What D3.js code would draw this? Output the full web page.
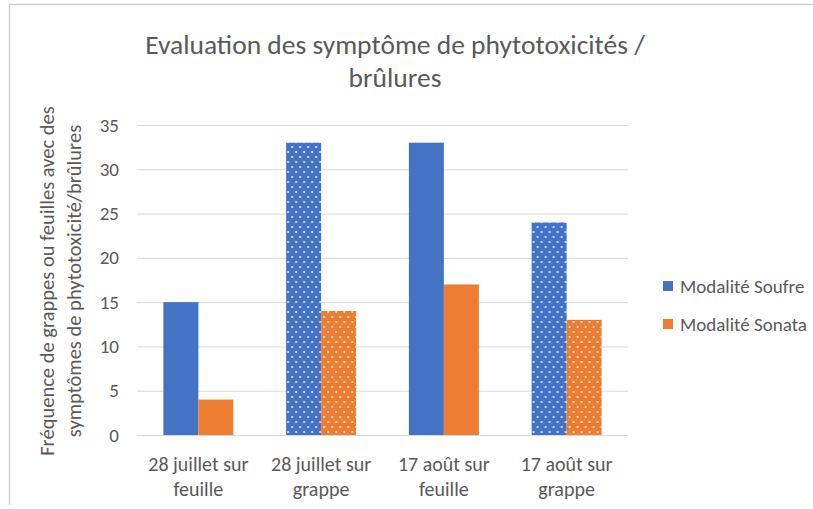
<!DOCTYPE html>
<html><head><meta charset="utf-8">
<script src="https://cdn.jsdelivr.net/npm/d3@7"></script>
<style>body{margin:0;background:#fff}</style>
</head><body>
<svg id="c" width="813" height="509"></svg>
<script>
const categories = [["28 juillet sur","feuille"],["28 juillet sur","grappe"],["17 août sur","feuille"],["17 août sur","grappe"]];
const patterned = [false,true,false,true];
const seriesNames = ["Modalité Soufre","Modalité Sonata"];
const soufre = [15,33,33,24];
const sonata = [4,14,17,13];
const yTicks = [0,5,10,15,20,25,30,35];
const colors = ["#4472C4","#ED7D31"];

(function(){
const svg = d3.select("#c");
const font = "Calibri, Carlito, 'Open Sans', sans-serif";
const txt = "#595959";

// border
svg.append("path").attr("d","M9.5,505 L9.5,4.5 L813,4.5").attr("fill","none").attr("stroke","#d0d0d0").attr("stroke-width",1.5);

const defs = svg.append("defs");
colors.forEach((c,i)=>{
  const p = defs.append("pattern").attr("id","dots"+i).attr("patternUnits","userSpaceOnUse").attr("width",8).attr("height",10);
  p.append("rect").attr("width",8).attr("height",10).attr("fill",c);
  [[2,2],[6,7]].forEach(([x,y])=>p.append("rect").attr("x",x-0.9).attr("y",y-0.9).attr("width",1.8).attr("height",1.8).attr("fill","#fff").attr("opacity",0.85));
});

const pl=137, pr=628, pt=125, pb=435;
const x0 = d3.scaleBand().domain(d3.range(categories.length)).range([pl,pr]).paddingInner(0.43).paddingOuter(0.215);
const x1 = d3.scaleBand().domain([0,1]).range([0,x0.bandwidth()]);
const y = d3.scaleLinear().domain([0,35]).range([pb,pt]);

// gridlines
svg.append("g").selectAll("line").data(yTicks).join("line")
  .attr("x1",pl).attr("x2",pr).attr("y1",d=>y(d)+0.5).attr("y2",d=>y(d)+0.5)
  .attr("stroke","#d9d9d9").attr("stroke-width",1);

// y axis labels
const yAxis = d3.axisLeft(y).tickValues(yTicks).tickSize(0).tickPadding(0);
const ga = svg.append("g").attr("transform",`translate(${pl-18},0)`).call(yAxis);
ga.select(".domain").remove();
ga.selectAll("text").attr("font-family",font).attr("font-size",19).attr("fill",txt);

// bars
const data = categories.map((c,i)=>({i, vals:[soufre[i],sonata[i]]}));
const g = svg.append("g").selectAll("g").data(data).join("g").attr("transform",d=>`translate(${x0(d.i)},0)`);
g.selectAll("rect").data(d=>d.vals.map((v,s)=>({v,s,p:patterned[d.i]}))).join("rect")
  .attr("x",d=>x1(d.s)).attr("width",x1.bandwidth())
  .attr("y",d=>y(d.v)).attr("height",d=>y(0)-y(d.v))
  .attr("fill",d=>d.p?`url(#dots${d.s})`:colors[d.s]);

// x labels
categories.forEach((c,i)=>{
  const cx = x0(i)+x0.bandwidth()/2;
  const t = svg.append("text").attr("x",cx).attr("y",471)
    .attr("text-anchor","middle").attr("font-family",font).attr("font-size",20).attr("fill",txt);
  c.forEach((l,k)=>t.append("tspan").attr("x",cx).attr("dy",k?25:0).text(l));
});

// title
const title = svg.append("text").attr("x",395).attr("y",54).attr("text-anchor","middle")
  .attr("font-family",font).attr("font-size",27.5).attr("fill",txt);
title.append("tspan").attr("x",395).text("Evaluation des symptôme de phytotoxicités /");
title.append("tspan").attr("x",395).attr("dy",33).text("brûlures");

// y title
const yt = svg.append("text").attr("transform","translate(54,281) rotate(-90)").attr("text-anchor","middle")
  .attr("font-family",font).attr("font-size",20.5).attr("fill",txt);
yt.append("tspan").attr("x",0).text("Fréquence de grappes ou feuilles avec des");
yt.append("tspan").attr("x",0).attr("dy",27).text("symptômes de phytotoxicité/brûlures");

// legend
seriesNames.forEach((n,i)=>{
  const ly = 286 + i*38;
  svg.append("rect").attr("x",663).attr("y",ly-5).attr("width",10).attr("height",10).attr("fill",colors[i]);
  svg.append("text").attr("x",680).attr("y",ly+6.5).attr("font-family",font).attr("font-size",19).attr("fill",txt).text(n);
});
})();
</script>
</body></html>
